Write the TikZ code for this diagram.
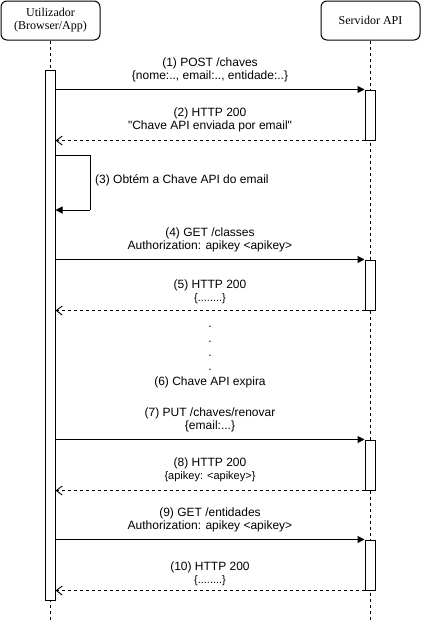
\documentclass[tikz,border=0pt]{standalone}
\usepackage{fontspec}
\setmainfont{Liberation Sans}[Ligatures=TeXOff]
\newfontfamily\headfont{Liberation Serif}
\usetikzlibrary{arrows.meta}
\begin{document}
\begin{tikzpicture}[x=1pt,y=-1pt,
  head/.style={draw,line width=1pt,rounded corners=6pt,fill=white,minimum width=99pt,minimum height=39pt,inner sep=0pt,align=center,font=\headfont\fontsize{12}{13}\selectfont},
  life/.style={line width=1pt,dash pattern=on 3pt off 3pt},
  actbar/.style={draw,line width=1pt,fill=white,minimum width=10pt,inner sep=0pt},
  msg/.style={line width=1pt,-{Triangle[length=7pt,width=7pt]}},
  ret/.style={line width=1pt,dash pattern=on 3pt off 3pt,-{Straight Barb[length=6pt,width=9pt,line width=0.9pt]}},
  lbl/.style={inner sep=0pt,align=center,font=\fontsize{12}{13.5}\selectfont},
  sm/.style={font=\fontsize{11}{13}\selectfont}
]
\useasboundingbox[fill=white] (0,0) rectangle (421,621);
% headers
\node[head] (user) at (50.5,20.5) {Utilizador\\(Browser/App)};
\node[head] (srv) at (370.5,20.5) {Servidor API};
\coordinate (ubot) at (50,621);
\coordinate (sbot) at (370,621);
\draw[life] (user.south -| ubot) -- (ubot);
\draw[life] (srv.south -| sbot) -- (sbot);
% activation bars
\node[actbar,minimum height=530pt] (ua) at (50,335) {};
\node[actbar,minimum height=50pt] (s1) at (370,115) {};
\node[actbar,minimum height=50pt] (s2) at (370,285) {};
\node[actbar,minimum height=50pt] (s3) at (370,465) {};
\node[actbar,minimum height=50pt] (s4) at (370,565) {};
% messages
\draw[msg] (ua.east |- s1.north) -- (s1.north west);
\node[lbl] (l1) at (210,70) {(1) POST /chaves\\\{nome:.., email:.., entidade:..\}};
\draw[ret] (s1.south west) -- (ua.east |- s1.south);
\node[lbl] (l2) at (210,120) {(2) HTTP 200\\"Chave API enviada por email"};
% self message
\coordinate (a3) at (55,155);
\coordinate (b3) at (90,210);
\draw[line width=1pt] (a3) -| (b3);
\draw[msg] (b3) -- (ua.east |- b3);
\node[lbl,anchor=west] (l3) at (95,180.5) {(3) Obtém a Chave API do email};
\draw[msg] (ua.east |- s2.north) -- (s2.north west);
\node[lbl] (l4) at (210,240) {(4) GET /classes\\Authorization: apikey <apikey>};
\draw[ret] (s2.south west) -- (ua.east |- s2.south);
\node[lbl] (l5) at (210,292) {(5) HTTP 200\\{\fontsize{11}{13}\selectfont\{........\}}};
\node[lbl,font=\fontsize{12}{14.4}\selectfont] (l6) at (210,357) {.\\.\\.\\.\\(6) Chave API expira};
\draw[msg] (ua.east |- s3.north) -- (s3.north west);
\node[lbl] (l7) at (210,420) {(7) PUT /chaves/renovar\\\{email:...\}};
\draw[ret] (s3.south west) -- (ua.east |- s3.south);
\node[lbl] (l8) at (210,470) {(8) HTTP 200\\{\fontsize{11}{13}\selectfont\{apikey: <apikey>\}}};
\draw[msg] (ua.east |- s4.north) -- (s4.north west);
\node[lbl] (l9) at (210,520) {(9) GET /entidades\\Authorization: apikey <apikey>};
\draw[ret] (s4.south west) -- (ua.east |- s4.south);
\node[lbl] (l10) at (210,574) {(10) HTTP 200\\{\fontsize{11}{13}\selectfont\{........\}}};
\end{tikzpicture}
\end{document}
